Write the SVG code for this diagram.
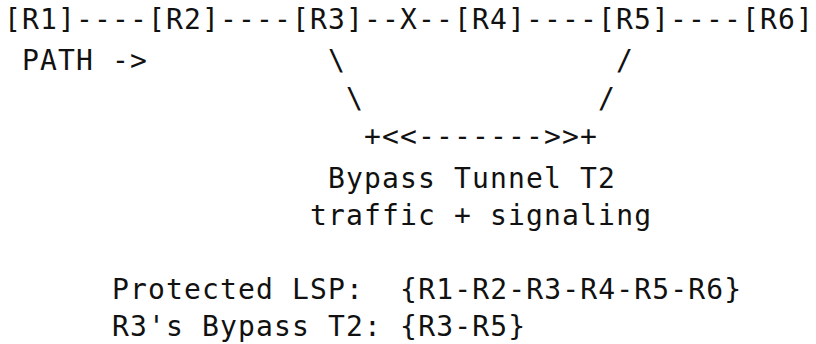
<svg xmlns="http://www.w3.org/2000/svg" width="816" height="344" viewBox="0 0 816 344">
<style>
text{font-family:"DejaVu Sans Mono","Liberation Mono",monospace;font-size:28px;letter-spacing:1.15px;fill:#111;white-space:pre}
</style>
<rect width="816" height="344" fill="#fff"/>
<g id="connectors">
<text x="76" y="29">----</text>
<text x="220" y="29">----</text>
<text x="364" y="29">--X--</text>
<text x="526" y="29">----</text>
<text x="670" y="29">----</text>
<text x="328" y="70">\</text>
<text x="616" y="70">/</text>
<text x="346" y="108">\</text>
<text x="598" y="108">/</text>
<text x="364" y="146">+&lt;&lt;-------&gt;&gt;+</text>
</g>
<g id="R1"><text x="4" y="29">[R1]</text></g>
<g id="R2"><text x="148" y="29">[R2]</text></g>
<g id="R3"><text x="292" y="29">[R3]</text></g>
<g id="R4"><text x="454" y="29">[R4]</text></g>
<g id="R5"><text x="598" y="29">[R5]</text></g>
<g id="R6"><text x="742" y="29">[R6]</text></g>
<g id="path-label"><text x="22" y="70">PATH -&gt;</text></g>
<g id="tunnel-label">
<text x="328" y="188">Bypass Tunnel T2</text>
<text x="310" y="225">traffic + signaling</text>
</g>
<g id="legend">
<text x="112" y="299">Protected LSP:  {R1-R2-R3-R4-R5-R6}</text>
<text x="112" y="336">R3's Bypass T2: {R3-R5}</text>
</g>
</svg>
